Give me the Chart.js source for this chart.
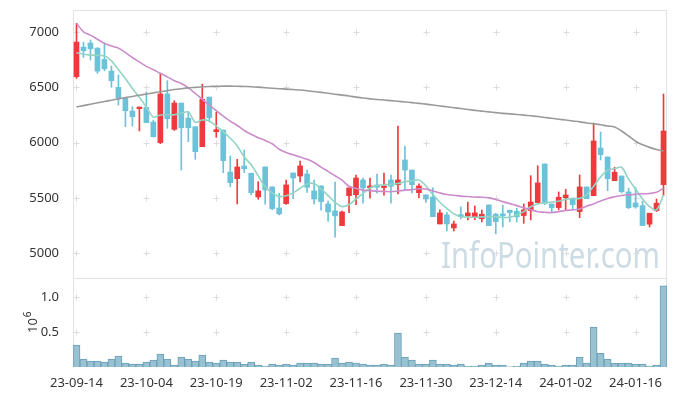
<!DOCTYPE html>
<html>
<head>
<meta charset="utf-8">
<script src="https://cdn.jsdelivr.net/npm/chart.js@4.4.1/dist/chart.umd.min.js"></script>
<style>
html,body{margin:0;padding:0;background:#fff;}
#wrap{position:relative;width:677px;height:396px;}
#wrap canvas{position:absolute;left:0;top:0;}
</style>
</head>
<body>
<div id="wrap">
<canvas id="chPrice" width="677" height="396"></canvas>
<canvas id="chVol" width="677" height="396"></canvas>
</div>
<script>
// dias de mercado (YY-MM-DD)
const dias=["23-09-14","23-09-15","23-09-18","23-09-19","23-09-20","23-09-21","23-09-22","23-09-25","23-09-26","23-09-27",
"23-10-04","23-10-05","23-10-06","23-10-10","23-10-11","23-10-12","23-10-13","23-10-16","23-10-17","23-10-18",
"23-10-19","23-10-20","23-10-23","23-10-24","23-10-25","23-10-26","23-10-27","23-10-30","23-10-31","23-11-01",
"23-11-02","23-11-03","23-11-06","23-11-07","23-11-08","23-11-09","23-11-10","23-11-13","23-11-14","23-11-15",
"23-11-16","23-11-17","23-11-20","23-11-21","23-11-22","23-11-23","23-11-24","23-11-27","23-11-28","23-11-29",
"23-11-30","23-12-01","23-12-04","23-12-05","23-12-06","23-12-07","23-12-08","23-12-11","23-12-12","23-12-13",
"23-12-14","23-12-15","23-12-18","23-12-19","23-12-20","23-12-21","23-12-22","23-12-26","23-12-27","23-12-28",
"24-01-02","24-01-03","24-01-04","24-01-05","24-01-08","24-01-09","24-01-10","24-01-11","24-01-12","24-01-15",
"24-01-16","24-01-17","24-01-18","24-01-19","24-01-22"];
const apertura=[6596,6864,6901,6855,6753,6647,6500,6403,6286,6307,6319,6186,6000,6440,6120,6358,6222,6144,5963,6412,
6099,6114,5734,5674,5789,5723,5508,5780,5599,5409,5448,5725,5698,5716,5563,5608,5445,5382,5249,5520,
5529,5662,5593,5617,5593,5662,5620,5843,5752,5547,5527,5508,5264,5346,5228,5348,5337,5325,5312,5436,
5352,5355,5388,5379,5340,5385,5457,5807,5445,5412,5502,5497,5376,5599,5520,5951,5870,5656,5698,5554,
5454,5430,5262,5385,5620];
const maximo=[7079,6907,6928,6858,6903,6693,6611,6403,6325,6322,6458,6204,6627,6560,6379,6358,6280,6144,6530,6412,
6274,6114,5879,5849,5933,5723,5647,5780,5599,5542,5662,5725,5834,5752,5662,5608,5472,5644,5380,5590,
5707,5680,5680,5716,5725,5707,6150,5969,5752,5626,5527,5590,5391,5370,5291,5418,5463,5427,5391,5436,
5361,5433,5388,5406,5445,5701,5791,5807,5445,5554,5578,5497,5707,5599,6177,6096,5870,5777,5698,5587,
5596,5472,5361,5490,6440];
const minimo=[6581,6771,6747,6627,6650,6500,6340,6144,6150,6105,6180,6051,5990,6130,6110,5752,6008,5849,5963,6189,
6048,5728,5602,5445,5728,5527,5488,5443,5394,5346,5440,5493,5644,5550,5445,5388,5289,5144,5249,5367,
5439,5451,5497,5542,5524,5451,5535,5572,5545,5499,5460,5330,5264,5201,5201,5309,5300,5303,5282,5249,
5174,5237,5282,5282,5270,5300,5457,5439,5370,5391,5391,5397,5321,5493,5520,5843,5565,5656,5545,5403,
5406,5249,5237,5376,5520];
const cierre=[6910,6831,6849,6647,6668,6560,6403,6289,6234,6322,6180,6053,6440,6216,6358,6135,6135,5918,6392,6225,
6117,5837,5638,5780,5764,5547,5563,5572,5403,5355,5617,5680,5789,5596,5490,5466,5373,5337,5373,5590,
5680,5590,5608,5596,5608,5605,5662,5752,5620,5608,5490,5330,5364,5264,5264,5330,5364,5364,5352,5249,
5285,5337,5367,5328,5391,5463,5635,5450,5412,5506,5526,5439,5599,5493,6015,5891,5674,5732,5556,5412,
5418,5249,5361,5452,6105];
const volumen=[314000,114000,86000,86000,71000,114000,157000,57000,43000,43000,
71000,100000,186000,114000,29000,143000,114000,86000,171000,71000,
57000,100000,71000,71000,43000,71000,29000,14000,43000,29000,
43000,29000,57000,57000,57000,43000,43000,129000,57000,71000,
57000,43000,29000,29000,43000,29000,486000,143000,100000,43000,
43000,100000,43000,43000,29000,43000,14000,14000,29000,57000,
29000,29000,4000,14000,57000,86000,86000,43000,29000,14000,
29000,29000,143000,57000,571000,196000,114000,57000,57000,57000,
43000,43000,14000,29000,1160000];
// medias moviles
const ma5=[6813,6800,6792,6790,6785,6740,6660,6580,6490,6410,6320,6230,6250,6252,6252,6265,6278,6185,6205,6195,
6150,6100,6040,5970,5870,5800,5700,5600,5545,5512,5520,5545,5587,5625,5630,5580,5520,5460,5421,5440,
5490,5540,5590,5612,5617,5622,5630,5645,5655,5662,5610,5530,5460,5406,5355,5330,5326,5325,5328,5330,
5330,5322,5325,5345,5376,5420,5445,5455,5462,5470,5485,5495,5495,5530,5605,5690,5750,5765,5777,5670,
5580,5490,5421,5391,5527];
const ma20=[7079,7003,6973,6935,6898,6875,6855,6815,6770,6730,6690,6660,6627,6595,6560,6535,6495,6445,6392,6340,
6290,6240,6195,6155,6110,6075,6045,6020,5990,5940,5910,5890,5870,5850,5820,5778,5740,5700,5660,5605,
5585,5570,5566,5560,5558,5556,5562,5570,5574,5582,5580,5563,5545,5530,5524,5516,5512,5508,5506,5500,
5485,5466,5448,5430,5410,5392,5375,5370,5367,5375,5386,5391,5400,5425,5445,5472,5495,5510,5522,5527,
5533,5537,5540,5550,5587];
const ma120=[6322,6335,6348,6360,6372,6384,6396,6407,6418,6429,6440,6450,6460,6470,6480,6488,6495,6500,6505,6508,
6510,6511,6511,6510,6508,6506,6502,6497,6492,6488,6484,6480,6476,6470,6462,6455,6447,6438,6430,6422,
6412,6403,6396,6390,6385,6380,6374,6368,6362,6355,6348,6340,6332,6324,6316,6308,6300,6292,6285,6278,
6271,6265,6260,6255,6249,6243,6236,6228,6220,6212,6204,6196,6188,6178,6170,6162,6150,6142,6105,6060,
6012,5980,5957,5938,5924];
const ticksPrecio=[5000,5500,6000,6500,7000];
const ticksVol=[500000,1000000];

const ROJO="#ef3a3d",AZUL="#6cc2d9",FUENTE="'Noto Sans',sans-serif";
const colVela=apertura.map((o,i)=>cierre[i]>=o?ROJO:AZUL);

// cruces de la rejilla + marco del panel
const rejilla={id:"rejilla",beforeDatasetsDraw(ch,a,o){
  const c=ch.ctx,ar=ch.chartArea,x=ch.scales.x,y=ch.scales.y;
  c.save();
  c.strokeStyle="#e2e2e2";c.lineWidth=1;
  c.beginPath();
  c.moveTo(ar.left+0.5,ar.top);c.lineTo(ar.left+0.5,ar.bottom);
  c.moveTo(ar.left,ar.top+0.5);c.lineTo(ar.right,ar.top+0.5);
  c.moveTo(ar.right-0.5,ar.top);c.lineTo(ar.right-0.5,ar.bottom);
  c.stroke();
  c.strokeStyle="#dcdcdc";
  c.beginPath();
  x.ticks.forEach(t=>{const px=Math.round(x.getPixelForValue(t.value))+0.5;
    y.ticks.forEach(u=>{const py=Math.round(y.getPixelForValue(u.value))+0.5;
      c.moveTo(px-3,py);c.lineTo(px+3,py);c.moveTo(px,py-3);c.lineTo(px,py+3);});});
  c.stroke();
  if(o.marca){
    c.font="37px "+FUENTE;c.fillStyle="#cddce4";c.textBaseline="alphabetic";
    const w=c.measureText(o.marca).width;
    c.translate(441,268);c.scale(219/w,1);c.fillText(o.marca,0,0);
  }
  c.restore();
}};
const exponente={id:"exponente",afterDraw(ch){
  const c=ch.ctx;c.save();c.fillStyle="#333";
  c.translate(37,333);c.rotate(-Math.PI/2);
  c.font="13px "+FUENTE;c.textBaseline="alphabetic";
  c.fillText("10",0,0);const w=c.measureText("10").width;
  c.font="10px "+FUENTE;c.fillText("6",w+1,-6);
  c.restore();
}};

const sinRelleno=s=>{s.paddingTop=0;s.paddingBottom=0;s.paddingLeft=0;s.paddingRight=0;};
const ejeX=(visible)=>({type:"category",offset:true,display:visible,grid:{display:false},border:{display:false},
  afterBuildTicks:s=>{s.ticks=s.ticks.filter(t=>t.value%10===0);},
  afterFit:s=>{if(visible)s.height=29;sinRelleno(s);},
  ticks:{autoSkip:false,maxRotation:0,minRotation:0,padding:0,color:"#333",font:{family:FUENTE,size:13},
    callback:(v)=>dias[v]}});

new Chart(document.getElementById("chPrice"),{
  type:"bar",
  data:{labels:dias,datasets:[
    {type:"line",data:ma120,borderColor:"#9a9a9a",borderWidth:1.6,pointRadius:0,tension:0.3,order:0},
    {type:"line",data:ma20,borderColor:"#cc8ccb",borderWidth:1.6,pointRadius:0,tension:0.3,order:0},
    {type:"line",data:ma5,borderColor:"#93d4c4",borderWidth:1.6,pointRadius:0,tension:0.3,order:0},
    {data:maximo.map((h,i)=>[minimo[i],h]),backgroundColor:colVela,barThickness:1,grouped:false,order:2},
    {data:apertura.map((o,i)=>[o,cierre[i]]),backgroundColor:colVela,barThickness:5,minBarLength:1,grouped:false,order:1}
  ]},
  options:{responsive:false,animation:false,
    layout:{padding:{top:10,right:10,bottom:118,left:0}},
    plugins:{legend:{display:false},tooltip:{enabled:false},rejilla:{}},
    scales:{
      x:ejeX(false),
      y:{min:4775,max:7200,grid:{display:false},border:{display:false},
        afterBuildTicks:s=>{s.ticks=ticksPrecio.map(v=>({value:v}));},
        afterFit:s=>{s.width=73;sinRelleno(s);},
        ticks:{padding:6,color:"#333",font:{family:FUENTE,size:13},callback:v=>String(v)}}
    }},
  plugins:[rejilla]
});

new Chart(document.getElementById("chVol"),{
  type:"bar",
  data:{labels:dias,datasets:[
    {data:volumen,backgroundColor:"#98c1d1",borderColor:"#6a9fb6",borderWidth:1,barPercentage:1,categoryPercentage:1}
  ]},
  options:{responsive:false,animation:false,
    layout:{padding:{top:278,right:10,bottom:0,left:0}},
    plugins:{legend:{display:false},tooltip:{enabled:false},rejilla:{marca:"InfoPointer.com"}},
    scales:{
      x:ejeX(true),
      y:{min:0,max:1271000,grid:{display:false},border:{display:false},
        afterBuildTicks:s=>{s.ticks=ticksVol.map(v=>({value:v}));},
        afterFit:s=>{s.width=73;sinRelleno(s);},
        ticks:{padding:6,color:"#333",font:{family:FUENTE,size:13},callback:v=>(v/1e6).toFixed(1)}}
    }},
  plugins:[rejilla,exponente]
});
</script>
</body>
</html>
